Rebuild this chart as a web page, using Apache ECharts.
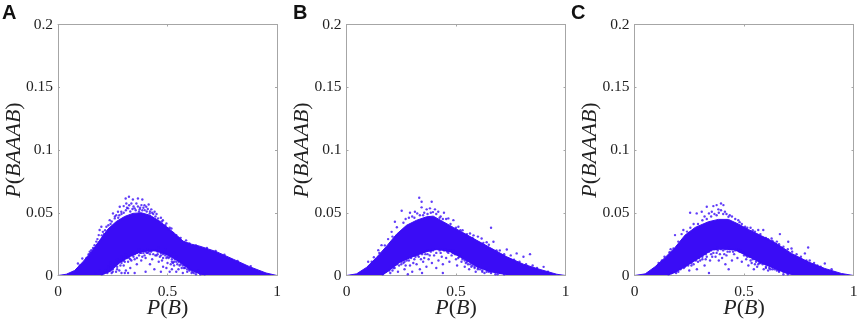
<!DOCTYPE html>
<html><head><meta charset="utf-8">
<style>html,body{margin:0;padding:0;background:#fff}#c{width:858px;height:319px}</style>
<script src="https://cdn.jsdelivr.net/npm/echarts@6/dist/echarts.min.js"></script></head>
<body><div id="c"></div><script>
const panelLetters=['A','B','C'];
const xTicks=[0,0.5,1];
const yTicks=[0,0.05,0.1,0.15,0.2];
const xTitle='P(B)', yTitle='P(BAAAB)';
// outer edge of the solid cloud
const upperA=[[0,0],[.038,.001],[.076,.004],[.114,.011],[.152,.019],[.19,.028],[.228,.037],[.266,.043],[.304,.047],[.342,.0495],[.38,.05],[.42,.048],[.457,.044],[.495,.039],[.533,.0335],[.571,.0274],[.609,.025],[.647,.0234],[.723,.019],[.8,.013],[.875,.007],[.95,.002],[1,0]];
const upperB=[[0,0],[.046,.0013],[.091,.0064],[.137,.0144],[.183,.0234],[.229,.033],[.274,.04],[.32,.044],[.366,.0468],[.396,.0473],[.442,.0428],[.488,.0383],[.534,.034],[.595,.028],[.655,.0223],[.732,.0149],[.808,.009],[.884,.0048],[.96,.001],[1,0]];
const upperC=[[0,0],[.049,.0013],[.094,.007],[.14,.0144],[.185,.0223],[.231,.0322],[.277,.0383],[.337,.0428],[.383,.0447],[.429,.0447],[.474,.041],[.52,.0367],[.58,.0316],[.641,.0263],[.717,.0176],[.793,.0109],[.869,.0056],[.945,.0016],[1,0]];
// top edge of the sparse pocket below the solid cloud
const pocketA=[[.2,0],[.24,.003],[.28,.0095],[.33,.015],[.38,.0185],[.44,.0195],[.5,.016],[.55,.011],[.6,.0045],[.65,.0005],[.68,0]];
const pocketB=[[.165,0],[.198,.004],[.244,.0102],[.305,.0147],[.366,.0185],[.412,.0205],[.473,.0185],[.534,.0129],[.595,.0065],[.655,.0025],[.72,.0005],[.75,0]];
const pocketC=[[.155,0],[.185,.002],[.246,.0081],[.307,.0147],[.353,.02],[.398,.0208],[.459,.02],[.52,.0147],[.58,.0094],[.641,.0049],[.7,.001],[.73,0]];
// individually visible dots
const dotsA=[[.309,.0614],[.324,.0628],[.342,.0606],[.365,.0614],[.385,.0606],[.312,.0574],[.335,.0574],[.358,.0574],[.381,.0561],[.414,.0566],[.403,.0548],[.32,.0535],[.3,.0553],[.274,.0508],[.251,.0495],[.289,.0508],[.426,.0527],[.441,.0508],[.457,.0455],[.479,.0441],[.495,.0415],[.259,.0455],[.236,.0441],[.221,.0388],[.19,.0362],[.186,.0322],[.152,.0202],[.145,.0189],[.111,.0136],[.091,.0096],[.518,.0375],[.54,.0322],[.35,.0535],[.373,.0527],[.396,.0521],[.419,.0495],[.282,.0548],[.266,.0481],[.198,.0388],[.205,.0348],[.167,.0242],[.464,.0428],[.31,.052],[.33,.051],[.345,.055],[.37,.051],[.39,.054],[.405,.051],[.43,.05],[.445,.047],[.29,.049],[.275,.046],[.245,.043],[.215,.036],[.175,.027],[.14,.017],[.47,.046],[.51,.038],[.56,.03],[.585,.028],
[.3,.05],[.315,.054],[.325,.056],[.34,.053],[.355,.052],[.365,.055],[.375,.054],[.385,.052],[.395,.056],[.41,.053],[.42,.051],[.435,.049],[.45,.049],[.28,.048],[.26,.047],[.24,.041],[.23,.04],[.21,.033],[.2,.032],[.18,.029],[.16,.022],[.13,.014],[.1,.008],[.475,.043],[.49,.04],[.505,.037],[.525,.034],[.55,.03],[.6,.0255],[.63,.024],[.68,.022],[.72,.0195],[.76,.0165],[.82,.0115],[.88,.0075],
[.17,.002],[.19,.004],[.21,.002],[.23,.007],[.25,.003],[.26,.009],[.27,.005],[.28,.012],[.29,.002],[.3,.008],[.3,.014],[.31,.004],[.32,.011],[.33,.016],[.33,.006],[.34,.019],[.35,.013],[.35,.002],[.36,.009],[.37,.016],[.37,.021],[.38,.012],[.39,.018],[.4,.014],[.4,.003],[.41,.021],[.42,.009],[.42,.017],[.43,.013],[.44,.02],[.44,.005],[.45,.016],[.46,.011],[.46,.022],[.47,.018],[.48,.007],[.48,.014],[.49,.021],[.5,.01],[.5,.017],[.51,.003],[.52,.013],[.53,.008],[.53,.018],[.54,.015],[.55,.005],[.56,.011],[.57,.002],[.58,.008],[.6,.005],[.62,.002],[.64,.004],[.67,.001],[.24,.01],[.27,.013],[.31,.017],[.29,.015],[.315,.014],[.345,.015],[.355,.018],[.385,.015],[.415,.019],[.435,.017],[.455,.019],[.475,.012],[.495,.014],[.515,.009],[.545,.009],[.565,.006],[.59,.003],[.61,.004],[.47,.003],[.28,.004],[.22,.005],[.32,.002],
[.215,.004],[.24,.006],[.255,.007],[.265,.011],[.285,.008],[.295,.012],[.305,.011],[.325,.014],[.335,.012],[.36,.014],[.375,.018],[.395,.016],[.405,.018],[.425,.019],[.445,.016],[.465,.015],[.485,.018],[.505,.014],[.525,.01],[.535,.013],[.555,.008],[.575,.006],[.595,.007],[.615,.003],[.63,.003],[.265,.003],[.305,.002],[.52,.005],[.54,.003],[.495,.006]];
const dotsB=[[.332,.062],[.343,.0588],[.389,.0588],[.252,.0516],[.29,.05],[.3125,.0508],[.323,.0495],[.343,.0543],[.366,.0527],[.381,.0535],[.404,.0527],[.419,.0508],[.445,.05],[.465,.0455],[.488,.0441],[.511,.0388],[.66,.038],[.564,.0335],[.617,.0295],[.671,.0269],[.732,.0207],[.838,.017],[.777,.0176],[.808,.0149],[.9,.0069],[.221,.0428],[.206,.0348],[.16,.0242],[.145,.0202],[.099,.0109],[.23,.0385],[.27,.045],[.3,.047],[.355,.05],[.395,.0505],[.43,.047],[.455,.045],[.53,.036],[.58,.032],[.6,.031],[.64,.0265],[.7,.02],[.75,.016],[.85,.008],[.19,.029],[.125,.0145],
[.26,.042],[.285,.046],[.31,.046],[.335,.048],[.35,.048],[.37,.049],[.385,.05],[.41,.049],[.425,.046],[.44,.045],[.475,.041],[.5,.038],[.52,.036],[.55,.033],[.575,.03],[.625,.026],[.65,.0245],[.685,.02],[.72,.017],[.765,.0125],[.79,.011],[.82,.009],[.87,.006],[.92,.003],[.21,.031],[.175,.024],[.15,.018],[.115,.011],
[.2,.002],[.22,.006],[.235,.003],[.25,.009],[.265,.005],[.275,.012],[.29,.008],[.3,.003],[.31,.013],[.32,.009],[.33,.015],[.335,.005],[.35,.011],[.36,.017],[.365,.007],[.375,.013],[.385,.019],[.39,.01],[.4,.016],[.405,.021],[.41,.006],[.42,.012],[.43,.018],[.44,.009],[.445,.02],[.455,.014],[.465,.018],[.47,.011],[.48,.016],[.49,.02],[.5,.013],[.505,.008],[.515,.017],[.525,.011],[.54,.007],[.55,.011],[.56,.005],[.575,.008],[.59,.003],[.61,.005],[.63,.002],[.65,.003],[.68,.001],[.7,.002],[.28,.001],[.345,.002],[.44,.002],[.27,.008],[.34,.013],[.395,.02],[.425,.02],[.475,.02],
[.21,.004],[.24,.008],[.26,.01],[.285,.012],[.305,.01],[.315,.015],[.345,.017],[.355,.014],[.37,.017],[.38,.016],[.41,.018],[.435,.015],[.46,.019],[.485,.018],[.495,.017],[.51,.014],[.53,.014],[.545,.01],[.565,.009],[.585,.006],[.6,.006],[.62,.004],[.64,.005]];
const dotsC=[[.254,.05],[.395,.0574],[.375,.0561],[.406,.0561],[.36,.0553],[.33,.0548],[.353,.0508],[.307,.0508],[.284,.0495],[.383,.0527],[.413,.0508],[.429,.0468],[.474,.0441],[.505,.0388],[.565,.0362],[.588,.0362],[.664,.033],[.626,.0295],[.702,.0269],[.717,.0215],[.793,.0223],[.778,.0176],[.869,.0096],[.185,.0322],[.178,.0215],[.223,.0362],[.137,.0149],[.215,.033],[.34,.0495],[.32,.047],[.365,.049],[.395,.052],[.42,.049],[.445,.047],[.46,.045],[.49,.041],[.53,.038],[.55,.035],[.61,.029],[.65,.027],[.68,.023],[.74,.017],[.8,.012],[.835,.008],[.27,.041],[.255,.038],[.16,.0185],[.11,.01],
[.29,.041],[.31,.044],[.33,.045],[.35,.047],[.375,.048],[.385,.05],[.405,.049],[.435,.048],[.48,.0425],[.515,.038],[.54,.036],[.575,.033],[.6,.03],[.63,.0275],[.66,.025],[.7,.021],[.72,.019],[.76,.015],[.785,.012],[.82,.01],[.85,.007],[.9,.005],[.24,.035],[.2,.027],[.165,.021],[.125,.012],
[.2,.003],[.225,.006],[.25,.004],[.27,.009],[.285,.005],[.3,.012],[.32,.008],[.33,.015],[.345,.012],[.36,.018],[.37,.015],[.38,.02],[.385,.012],[.39,.017],[.4,.014],[.405,.02],[.415,.009],[.42,.016],[.43,.005],[.435,.019],[.445,.012],[.455,.017],[.46,.02],[.47,.014],[.48,.019],[.49,.011],[.5,.016],[.51,.013],[.52,.008],[.53,.012],[.55,.009],[.56,.007],[.575,.01],[.59,.005],[.61,.004],[.63,.005],[.66,.003],[.68,.001],[.7,.002],[.34,.002],[.29,.011],[.355,.015],[.41,.017],[.475,.021],[.545,.005],
[.235,.008],[.26,.008],[.31,.013],[.325,.013],[.35,.017],[.375,.018],[.425,.019],[.45,.019],[.5,.018],[.515,.015],[.535,.01],[.565,.009],[.6,.006],[.62,.005],[.65,.004]];
// dots crowding the pocket's top edge
const edgeDotsA=[[.2,.001],[.225,.002],[.245,.002],[.25,.005],[.27,.007],[.275,.01],[.29,.01],[.3,.012],[.31,.014],[.32,.015],[.33,.013],[.34,.016],[.35,.017],[.36,.018],[.365,.019],[.38,.018],[.39,.02],[.4,.019],[.41,.018],[.42,.02],[.43,.02],[.45,.02],[.455,.017],[.47,.016],[.48,.017],[.49,.016],[.5,.015],[.51,.015],[.52,.011],[.53,.011],[.54,.011],[.55,.011],[.56,.009],[.57,.008],[.58,.006],[.59,.005],[.6,.004],[.61,.002],[.63,.001],[.65,.001]];
const edgeDotsB=[[.165,.001],[.18,.003],[.195,.004],[.215,.006],[.23,.009],[.25,.011],[.265,.011],[.28,.014],[.295,.014],[.31,.016],[.325,.016],[.34,.018],[.355,.019],[.37,.02],[.38,.02],[.395,.021],[.415,.021],[.43,.021],[.45,.021],[.465,.02],[.48,.02],[.5,.017],[.515,.015],[.53,.013],[.54,.012],[.555,.009],[.57,.007],[.585,.007],[.6,.005],[.62,.003],[.64,.003],[.66,.002],[.69,.001],[.72,.001]];
const edgeDotsC=[[.155,.001],[.17,.002],[.19,.002],[.21,.005],[.23,.007],[.245,.008],[.26,.01],[.28,.012],[.295,.014],[.31,.015],[.325,.017],[.34,.019],[.35,.02],[.365,.021],[.38,.022],[.395,.021],[.415,.021],[.43,.022],[.445,.021],[.465,.021],[.485,.02],[.495,.018],[.51,.016],[.525,.015],[.54,.013],[.555,.011],[.57,.01],[.585,.009],[.6,.007],[.615,.006],[.64,.005],[.66,.004],[.68,.003],[.7,.001]];
const upper=[upperA,upperB,upperC], pocket=[pocketA,pocketB,pocketC], dots=[dotsA.concat(edgeDotsA),dotsB.concat(edgeDotsB),dotsC.concat(edgeDotsC)];
const lefts=[58,346.5,634.5], letterX=[2,293,571];
const blue='#3a0cf6', grey='#a6a6a6', ink='#222';
const serif='"Liberation Serif","Times New Roman",serif';
const rich={i:{fontFamily:serif,fontStyle:'italic',fontSize:22,color:ink},r:{fontFamily:serif,fontSize:22,color:ink}};
const mathName=s=>s.split('').map(c=>'{'+(c==='('||c===')'?'r':'i')+'|'+c+'}').join('');
const grid=[],xAxis=[],yAxis=[],series=[],title=[];
panelLetters.forEach((L,i)=>{
  grid.push({left:lefts[i],top:24.5,width:219,height:251,outerBoundsMode:'none'});
  title.push({text:L,left:letterX[i],top:3,textStyle:{fontFamily:'"Liberation Sans",Arial,sans-serif',fontWeight:'bold',fontSize:20,color:'#111'},padding:0});
  const line={show:true,onZero:false,lineStyle:{color:grey,width:1}};
  const tick={show:true,inside:true,length:2,lineStyle:{color:grey,width:1}};
  xAxis.push({gridIndex:i,type:'value',min:0,max:1,interval:0.5,position:'bottom',z:3,axisLine:line,axisTick:tick,splitLine:{show:false},
    axisLabel:{fontFamily:serif,fontSize:15.5,color:ink,margin:8,formatter:v=>xTicks.includes(v)?String(v):''},
    name:mathName(xTitle),nameLocation:'middle',nameGap:22,nameMoveOverlap:false,nameTextStyle:{rich}});
  xAxis.push({gridIndex:i,type:'value',min:0,max:1,interval:0.5,position:'top',z:3,axisLine:line,axisTick:tick,axisLabel:{show:false},splitLine:{show:false}});
  yAxis.push({gridIndex:i,type:'value',min:0,max:0.2,interval:0.05,position:'left',z:3,axisLine:line,axisTick:tick,splitLine:{show:false},
    axisLabel:{fontFamily:serif,fontSize:15.5,color:ink,margin:5,formatter:v=>String(yTicks.find(t=>Math.abs(t-v)<1e-9))},
    name:mathName(yTitle),nameLocation:'middle',nameGap:33,nameMoveOverlap:false,nameTextStyle:{rich}});
  yAxis.push({gridIndex:i,type:'value',min:0,max:0.2,interval:0.05,position:'right',z:3,axisLine:line,axisTick:tick,axisLabel:{show:false},splitLine:{show:false}});
  const ax=i*2;
  series.push({type:'line',xAxisIndex:ax,yAxisIndex:ax,data:upper[i],symbol:'none',z:1,silent:true,lineStyle:{color:blue,width:1},areaStyle:{color:blue,opacity:1}});
  series.push({type:'line',xAxisIndex:ax,yAxisIndex:ax,data:pocket[i],symbol:'none',z:2,silent:true,lineStyle:{width:0},areaStyle:{color:'#fff',opacity:1}});
  series.push({type:'scatter',xAxisIndex:ax,yAxisIndex:ax,data:dots[i],symbol:'circle',symbolSize:2.4,z:4,itemStyle:{color:blue}});
});
const chart=echarts.init(document.getElementById('c'),null,{renderer:'canvas'});
chart.setOption({animation:false,backgroundColor:'#fff',title,grid,xAxis,yAxis,series});
</script></body></html>
